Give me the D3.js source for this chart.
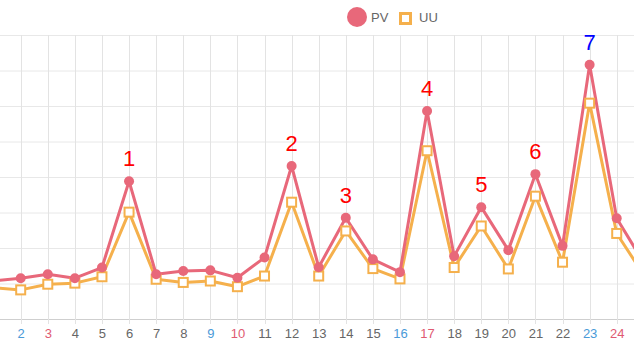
<!DOCTYPE html>
<html>
<head>
<meta charset="utf-8">
<script src="https://cdn.jsdelivr.net/npm/d3@7"></script>
<style>
  html, body { margin: 0; padding: 0; background: #fff; }
  svg { display: block; font-family: Arial, "Liberation Sans", Helvetica, sans-serif; }
</style>
</head>
<body>
<svg id="chart" width="634" height="350"></svg>
<script>
// Daily page views and unique users over one month window
const days = ["1","2","3","4","5","6","7","8","9","10","11","12","13","14","15","16","17","18","19","20","21","22","23","24","25"];
const pv = [107,115,126,115,145,388,126,135,137,116,173,431,146,285,168,132,586,177,315,194,408,206,716,284,158];
const uu = [88,82,98,101,119,301,112,103,107,91,121,329,121,248,142,113,474,145,262,141,346,160,608,241,124];
// Weekend days get coloured tick labels
const saturdays = ["2","9","16","23"];
const sundays = ["3","10","17","24"];
// Numbered peak markers
const peakDays = ["6","12","14","17","19","21","23"];
const peakLabels = ["1","2","3","4","5","6","7"];
const peakColors = ["#ff0000","#ff0000","#ff0000","#ff0000","#ff0000","#ff0000","#0000ff"];
const yTicks = [0,100,200,300,400,500,600,700,800];

const svg = d3.select("#chart");
const W = 634, H = 350;
const plotTop = 35, plotBottom = 319;

const x = d3.scalePoint().domain(days).range([-6.4, 643.8]);
const y = d3.scaleLinear().domain([0, 800]).range([plotBottom, plotTop]);

const PV_COLOR = "#e8687a";
const UU_COLOR = "#f5b04c";

// Grid
const grid = svg.append("g");
grid.selectAll("line.h").data(yTicks).enter().append("line")
  .attr("x1", 0).attr("x2", W)
  .attr("y1", d => y(d) + 0.5).attr("y2", d => y(d) + 0.5)
  .attr("stroke", d => d === 0 ? "#cfcfcf" : "#e8e8e8").attr("stroke-width", 1);
grid.selectAll("line.v").data(days).enter().append("line")
  .attr("x1", d => Math.round(x(d)) + 0.5).attr("x2", d => Math.round(x(d)) + 0.5)
  .attr("y1", plotTop).attr("y2", plotBottom + 5)
  .attr("stroke", "#e3e3e3").attr("stroke-width", 1);

// X axis labels (only the days whose label falls inside the view)
const visibleDays = days.filter(d => x(d) > 0 && x(d) < W);
const xAxis = d3.axisBottom(x).tickValues(visibleDays).tickSize(0).tickPadding(0);
const ax = svg.append("g").attr("transform", `translate(0,${plotBottom})`).call(xAxis);
ax.select(".domain").remove();
ax.selectAll("text")
  .attr("y", 19)
  .attr("dy", 0)
  .attr("font-size", 13)
  .attr("font-family", "Arial, 'Liberation Sans', sans-serif")
  .attr("fill", d => saturdays.includes(d) ? "#4a9ad8" : sundays.includes(d) ? "#e05a72" : "#666");

// Lines
const lineGen = vals => d3.line().x((d, i) => x(days[i])).y(d => y(d))(vals);
svg.append("path").attr("d", lineGen(uu)).attr("fill", "none")
  .attr("stroke", UU_COLOR).attr("stroke-width", 3).attr("stroke-linejoin", "round");
svg.append("path").attr("d", lineGen(pv)).attr("fill", "none")
  .attr("stroke", PV_COLOR).attr("stroke-width", 3).attr("stroke-linejoin", "round");

// Points
svg.append("g").selectAll("rect").data(uu).enter().append("rect")
  .attr("x", (d, i) => x(days[i]) - 4.5).attr("y", d => y(d) - 4.5)
  .attr("width", 9).attr("height", 9)
  .attr("fill", "#fff").attr("stroke", UU_COLOR).attr("stroke-width", 2);
svg.append("g").selectAll("circle").data(pv).enter().append("circle")
  .attr("cx", (d, i) => x(days[i])).attr("cy", d => y(d))
  .attr("r", 5).attr("fill", PV_COLOR);

// Peak numbers
svg.append("g").selectAll("text").data(peakDays).enter().append("text")
  .attr("x", d => x(d))
  .attr("y", d => y(pv[days.indexOf(d)]) - 15)
  .attr("text-anchor", "middle")
  .attr("font-size", 22)
  .attr("fill", (d, i) => peakColors[i])
  .text((d, i) => peakLabels[i]);

// Legend
const lg = svg.append("g").attr("font-size", 13).attr("fill", "#666");
lg.append("circle").attr("cx", 357).attr("cy", 17).attr("r", 10).attr("fill", PV_COLOR);
lg.append("text").attr("x", 371).attr("y", 21.5).text("PV");
lg.append("rect").attr("x", 400.5).attr("y", 13.5).attr("width", 10).attr("height", 10)
  .attr("fill", "#fff").attr("stroke", UU_COLOR).attr("stroke-width", 3);
lg.append("text").attr("x", 419).attr("y", 21.5).text("UU");
</script>
</body>
</html>
